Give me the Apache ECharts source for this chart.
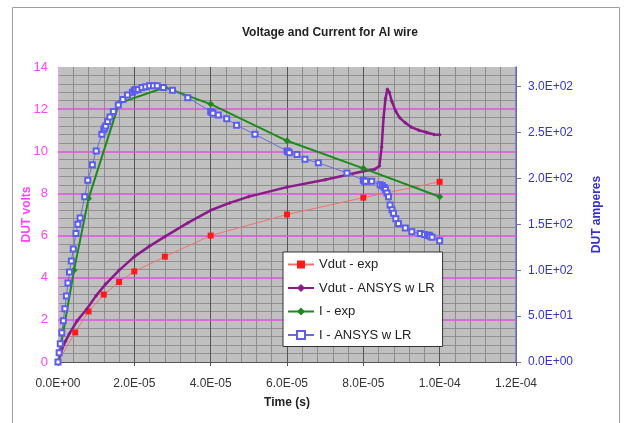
<!DOCTYPE html>
<html>
<head>
<meta charset="utf-8">
<script src="https://cdn.jsdelivr.net/npm/echarts@6/dist/echarts.min.js"></script>
<style>
  html, body { margin: 0; padding: 0; background: #fff; }
  #chart { width: 624px; height: 423px; }
</style>
</head>
<body>
<div id="chart"></div>
<script>
// Vdut - exp (red squares)
var tVexp = [0, 4.5e-6, 8e-6, 1.2e-5, 1.6e-5, 2.0e-5, 2.8e-5, 4.0e-5, 6.0e-5, 8.0e-5, 1.0e-4];
var vExp = [0, 1.4, 2.4, 3.2, 3.8, 4.3, 5.0, 6.0, 7.0, 7.8, 8.55];

// Vdut - ANSYS w LR (purple)
var tVsim = [0, 1e-6, 2e-6, 3e-6, 5e-6, 7.5e-6, 1e-5, 1.25e-5, 1.6e-5, 2e-5, 2.4e-5, 2.8e-5,
  3.4e-5, 4e-5, 4.5e-5, 5e-5, 6e-5, 7e-5, 8e-5, 8.3e-5, 8.42e-5, 8.48e-5, 8.53e-5, 8.58e-5,
  8.63e-5, 8.68e-5, 8.75e-5, 8.85e-5, 8.95e-5, 9.1e-5, 9.25e-5, 9.45e-5, 9.65e-5, 9.85e-5, 1.0e-4];
var vSim = [0, 0.6, 1.0, 1.35, 1.95, 2.5, 3.15, 3.7, 4.35, 5.0, 5.5, 5.95,
  6.6, 7.2, 7.55, 7.85, 8.3, 8.65, 9.05, 9.15, 9.3, 10.2, 11.6, 12.5,
  12.95, 12.8, 12.35, 11.9, 11.6, 11.35, 11.15, 11.0, 10.9, 10.8, 10.78];

// I - exp (green)
var tIexp = [0, 4.2e-6, 8e-6, 1.6e-5, 2.8e-5, 4e-5, 6e-5, 8e-5, 1e-4];
var iExp = [0, 100, 178, 282, 299, 281, 241, 211, 180];

// I - ANSYS w LR (blue open squares)
var tIsim = [0, 3e-7, 6e-7, 1e-6, 1.4e-6, 1.8e-6, 2.2e-6, 2.6e-6, 3e-6, 3.5e-6, 4e-6, 4.7e-6,
  5.2e-6, 5.8e-6, 7e-6, 7.8e-6, 9e-6, 1.0e-5, 1.15e-5, 1.2e-5, 1.22e-5, 1.25e-5, 1.3e-5,
  1.36e-5, 1.45e-5, 1.58e-5, 1.7e-5, 1.82e-5, 1.95e-5, 2.0e-5, 2.02e-5, 2.05e-5, 2.1e-5,
  2.2e-5, 2.3e-5, 2.4e-5, 2.5e-5, 2.6e-5, 2.76e-5, 3.0e-5, 3.4e-5, 4.0e-5, 4.03e-5, 4.06e-5,
  4.2e-5, 4.42e-5, 4.68e-5, 5.16e-5, 6.0e-5, 6.03e-5, 6.06e-5, 6.26e-5, 6.47e-5, 6.82e-5,
  7.57e-5, 8.0e-5, 8.03e-5, 8.06e-5, 8.22e-5, 8.44e-5, 8.5e-5, 8.55e-5, 8.58e-5, 8.62e-5,
  8.66e-5, 8.7e-5, 8.75e-5, 8.79e-5, 8.85e-5, 8.92e-5, 9.1e-5, 9.27e-5, 9.49e-5, 9.6e-5,
  9.68e-5, 9.72e-5, 9.75e-5, 9.8e-5, 1.0e-4];
var iSim = [0, 10, 20, 32, 45, 58, 72, 86, 98, 110, 123, 140,
  150, 157, 180, 198, 215, 230, 248, 253, 255, 257, 262,
  267, 273, 280, 286, 291, 294, 296, 296, 297, 297,
  299, 300, 301, 301, 301, 299, 296, 288, 273, 272, 271,
  269, 265, 258, 248, 230, 229, 228, 226, 221, 217,
  206, 198, 197, 197, 197, 193, 192, 190, 188, 184,
  180, 171, 166, 162, 156, 151, 146, 142, 140, 139,
  138, 138, 137, 136, 132];

// major voltage gridlines (magenta)
var voltGrid = [2, 4, 6, 8, 10, 12];

function pairs(xs, ys) {
  return xs.map(function (x, i) { return [x, ys[i]]; });
}

function sci(v) {
  var parts = Number(v).toExponential(1).split('e');
  var e = parseInt(parts[1], 10);
  return parts[0] + 'E' + (e < 0 ? '-' : '+') + String(Math.abs(e)).padStart(2, '0');
}

var font = 'Liberation Sans, Arial, sans-serif';
var chart = echarts.init(document.getElementById('chart'));

var option = {
  animation: false,
  textStyle: { fontFamily: font },
  title: {
    text: 'Voltage and Current for Al wire',
    left: 237,
    top: 22,
    textStyle: { fontSize: 12, fontWeight: 'bold', color: '#222', fontFamily: font }
  },
  graphic: [{
    type: 'rect',
    shape: { x: 12.5, y: 7.5, width: 607, height: 430 },
    style: { fill: 'none', stroke: '#a0a0a0', lineWidth: 1 },
    silent: true
  }],
  grid: {
    left: 58, right: 108, top: 67, bottom: 61,
    show: true, backgroundColor: '#c0c0c0', borderWidth: 0
  },
  legend: {
    orient: 'vertical',
    left: 283, top: 252,
    padding: [6, 8, 5, 4],
    itemGap: 10.5,
    itemWidth: 26, itemHeight: 10,
    backgroundColor: '#fff',
    borderColor: '#333', borderWidth: 1,
    textStyle: { fontSize: 13, color: '#222', fontFamily: font },
    data: ['Vdut - exp', 'Vdut - ANSYS w LR', 'I - exp', 'I - ANSYS w LR']
  },
  xAxis: {
    type: 'value',
    min: 0, max: 1.2e-4, interval: 2e-5,
    name: 'Time (s)',
    nameLocation: 'middle',
    nameGap: 35,
    nameMoveOverlap: false,
    nameTextStyle: { fontSize: 12, fontWeight: 'bold', color: '#222' },
    axisLine: { show: true, onZero: false, lineStyle: { color: '#555' } },
    axisTick: { show: true, length: 4, lineStyle: { color: '#555' } },
    axisLabel: { fontSize: 12, color: '#333', margin: 16, formatter: sci },
    splitLine: { show: true, lineStyle: { color: '#555', width: 1 } },
    minorTick: { show: false, splitNumber: 5 },
    minorSplitLine: { show: true, lineStyle: { color: '#8c8c8c', width: 1 } }
  },
  yAxis: [{
    type: 'value',
    min: 0, max: 14, interval: 2,
    name: 'DUT volts',
    nameLocation: 'middle',
    nameGap: 25,
    nameMoveOverlap: false,
    nameRotate: 90,
    nameTextStyle: { fontSize: 12, fontWeight: 'bold', color: '#ff44ff' },
    axisLine: { show: true, lineStyle: { color: '#e9a0e9' } },
    axisTick: { show: false },
    axisLabel: { fontSize: 13, color: '#ff44ff', margin: 10 },
    splitLine: { show: false },
    minorTick: { show: false, splitNumber: 5 },
    minorSplitLine: { show: true, lineStyle: { color: '#909090', width: 1 } }
  }, {
    type: 'value',
    position: 'right',
    min: 0, max: 321.4, interval: 50,
    name: 'DUT amperes',
    nameLocation: 'middle',
    nameGap: 75,
    nameMoveOverlap: false,
    nameRotate: 90,
    nameTextStyle: { fontSize: 12, fontWeight: 'bold', color: '#3333cc' },
    axisLine: { show: true, lineStyle: { color: '#7070cc', width: 1.5 } },
    axisTick: { show: true, length: 5, lineStyle: { color: '#7070cc' } },
    axisLabel: { fontSize: 12, color: '#3333cc', margin: 12, formatter: sci, showMaxLabel: false },
    splitLine: { show: false }
  }],
  series: [{
    name: 'Vdut - exp',
    type: 'line',
    yAxisIndex: 0,
    data: pairs(tVexp, vExp),
    symbol: 'rect', symbolSize: 6,
    itemStyle: { color: '#ff1a1a' },
    lineStyle: { color: '#f07070', width: 1 },
    markLine: {
      silent: true,
      symbol: 'none',
      label: { show: false },
      lineStyle: { color: '#e050e0', width: 1.6, type: 'solid', opacity: 1 },
      data: voltGrid.map(function (v) { return [{ xAxis: 0, yAxis: v }, { xAxis: 1.2e-4, yAxis: v }]; }),
      z: 1
    }
  }, {
    name: 'Vdut - ANSYS w LR',
    type: 'line',
    yAxisIndex: 0,
    data: pairs(tVsim, vSim),
    symbol: 'diamond', symbolSize: 4,
    itemStyle: { color: '#8a1a8a' },
    lineStyle: { color: '#8a1a8a', width: 2.5 }
  }, {
    name: 'I - exp',
    type: 'line',
    yAxisIndex: 1,
    data: pairs(tIexp, iExp),
    symbol: 'diamond', symbolSize: 7,
    itemStyle: { color: '#1e8a1e' },
    lineStyle: { color: '#1e8a1e', width: 2 }
  }, {
    name: 'I - ANSYS w LR',
    type: 'line',
    yAxisIndex: 1,
    data: pairs(tIsim, iSim),
    symbol: 'emptyRect', symbolSize: 5,
    itemStyle: { color: '#5c5cf0', borderWidth: 1 },
    lineStyle: { color: '#6a6ad8', width: 1 }
  }]
};

chart.setOption(option);
</script>
</body>
</html>
